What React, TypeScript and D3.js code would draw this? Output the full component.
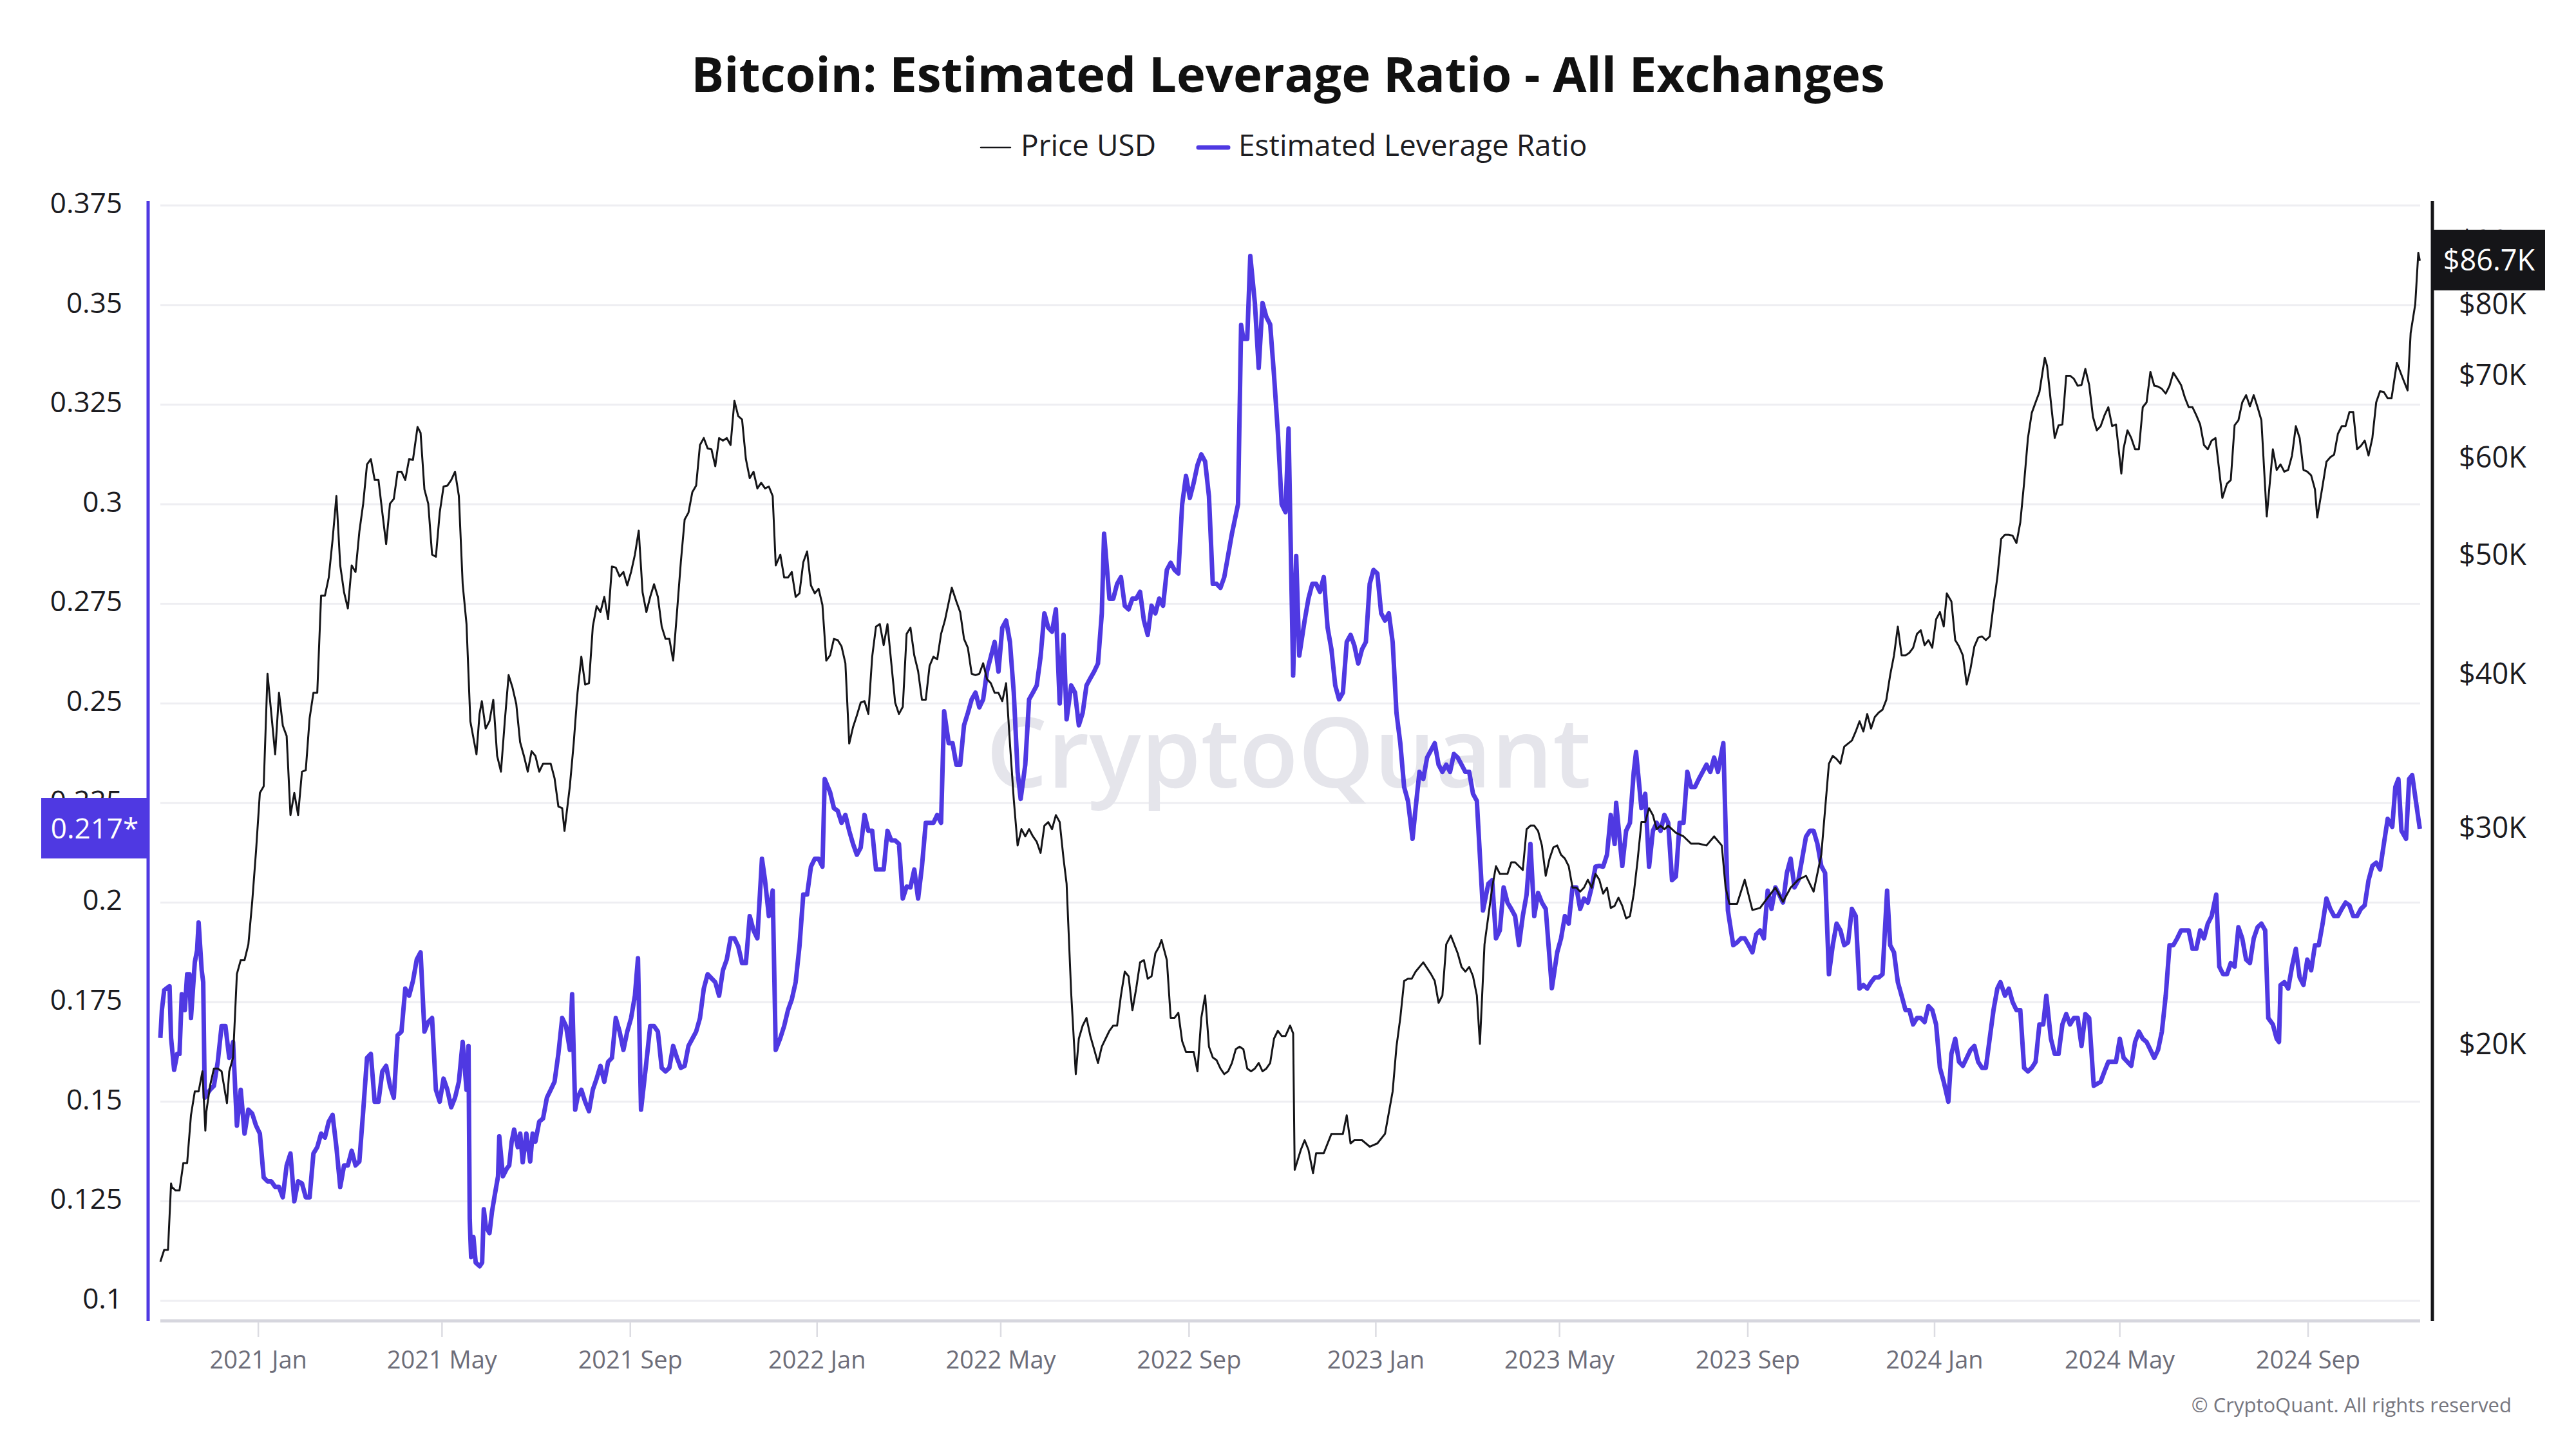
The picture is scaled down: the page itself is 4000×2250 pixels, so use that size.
import { useEffect, useRef } from 'react';
import * as d3 from 'd3';

// day offsets are counted from 2020-10-29 (first point on the chart)
const START = Date.UTC(2020, 9, 29);
const DAY = 86400000;
const LAST_DAY = 1476;

// BTC price in $K, [day, price]
const price2020_21: [number, number][] = [
  [0, 13.3], [2.5, 13.6], [5, 13.6], [7, 15.4], [7.5, 15.3], [10, 15.2], [12.5, 15.2], [15, 16.0],
  [17.5, 16.0], [20, 17.5], [22.5, 18.3], [25, 18.3], [27.5, 19.0], [29.4, 17.0], [30, 17.6], [32.5, 18.5],
  [35, 19.1], [37.5, 19.1], [40, 19.0], [42.5, 18.2], [43.5, 17.9], [45, 19.0], [47.5, 19.5], [50, 22.8],
  [52.5, 23.4], [55, 23.4], [57.5, 24.1], [60, 26.1], [62.5, 28.7], [65, 32.0], [67.5, 32.4], [70, 40.0],
  [72.5, 37.1], [75, 34.4], [77.5, 38.6], [80, 36.3], [82.5, 35.6], [85, 30.7], [87.5, 32.0], [90, 30.7],
  [92.5, 33.3], [95, 33.4], [97.5, 36.8], [100, 38.6], [102.5, 38.6], [105, 46.3], [107.5, 46.3], [110, 47.9],
  [112.5, 51.4], [115, 55.8], [117.5, 49.0], [120, 46.6], [122.5, 45.2], [125, 49.0], [127.5, 48.4],
  [130, 52.2], [132.5, 55.0], [135, 59.2], [137.5, 59.8], [140, 57.5], [142.5, 57.5], [145, 54.1],
  [147.5, 51.0], [150, 55.0], [152.5, 55.5], [155, 58.4], [157.5, 58.4], [160, 57.5], [162.5, 59.8],
  [165, 59.7], [168, 63.5], [170, 62.8], [172.5, 56.5], [175, 55.0], [177.5, 50.0], [180, 49.8],
  [182.5, 54.1], [185, 56.8], [187.5, 56.9], [190, 57.5], [192.5, 58.4], [195, 55.8], [197.5, 47.3],
  [200, 43.9], [202.5, 36.6], [206.5, 34.4], [208.5, 37.1], [210, 38.0], [212.5, 36.1], [215, 36.6],
  [217.5, 38.1], [220, 34.3], [222.5, 33.3], [225, 36.6], [227.5, 39.9], [230, 39.0], [232.5, 37.8],
  [235, 35.2], [237.5, 34.3], [240, 33.3], [242.5, 34.6], [245, 34.3], [247.5, 33.3], [250, 33.8],
  [252.5, 33.8], [255, 33.8], [257.5, 32.9], [260, 31.2], [262.5, 31.1], [264, 29.8], [267.5, 32.4],
  [270, 35.1], [272.5, 38.6], [275, 41.3], [277.5, 39.2], [280, 39.3], [282.5, 43.7], [285, 45.4],
  [287.5, 44.9], [290, 46.2], [292.5, 44.3], [295, 48.9], [297.5, 48.8], [300, 48.0], [302.5, 48.4],
  [305, 47.2], [307.5, 48.4], [310, 50.0], [312.5, 52.3], [315, 46.6], [317.5, 44.9], [320, 46.2],
  [322.5, 47.3], [325, 46.2], [327.5, 43.7], [330, 42.7], [332.5, 42.7], [335, 41.0], [337.5, 44.9],
  [340, 49.3], [342.5, 53.4], [345, 54.1], [347.5, 56.2], [350, 56.9], [352.5, 61.4], [355, 62.2],
  [357.5, 61.0], [360, 60.9], [362.5, 59.0], [365, 62.2], [367.5, 61.9], [370, 62.2], [372.5, 61.4],
  [375, 66.7], [377.5, 64.8], [380, 64.4], [382.5, 59.8], [385, 57.7], [387.5, 58.4], [390, 56.6],
  [392.5, 57.2], [395, 56.6], [397.5, 56.8], [400, 55.8], [402, 49.0], [405, 50.0], [407.5, 47.9],
  [410, 47.9], [412.5, 48.4], [415, 46.2], [417.5, 46.5], [420, 49.3], [422.5, 50.3], [425, 47.2],
  [427.5, 46.5], [430, 46.9], [432.5, 45.5], [435, 41.0], [437.5, 41.4], [440, 42.7], [442.5, 42.6],
  [445, 42.1], [447.5, 40.8], [450, 35.1], [452.5, 36.2], [455, 37.0], [457.5, 37.9], [460, 38.0],
  [462.5, 37.1], [465, 41.3], [467.5, 43.7], [470, 43.9], [472.5, 42.2], [475, 43.9], [477.5, 40.8],
  [480, 37.9], [482.5, 37.1], [485, 37.6], [487.5, 43.1],
];

const price2022: [number, number][] = [
  [490, 43.6], [492.5, 41.4], [495, 40.2], [497.5, 38.1], [500, 38.1], [502.5, 40.6], [505, 41.3],
  [507.5, 41.1], [510, 43.1], [512.5, 44.2], [517, 47.0], [520, 45.8], [522.5, 44.9], [525, 42.7],
  [527.5, 42.0], [530, 40.0], [532.5, 39.9], [535, 40.0], [537.5, 40.8], [540, 39.6], [542.5, 39.3],
  [545, 38.6], [547.5, 38.6], [550, 38.0], [552.5, 39.3], [555, 35.1], [557.5, 31.6], [560, 29.0],
  [562.5, 29.9], [565, 29.5], [567.5, 29.9], [570, 29.5], [572.5, 29.2], [575, 28.6], [577.5, 30.1],
  [580, 30.3], [582.5, 29.9], [585, 30.7], [587.5, 30.3], [590, 28.3], [592, 27.0], [595, 22.0],
  [598, 18.9], [600, 20.2], [602.5, 20.7], [605, 21.0], [607.5, 20.3], [610, 19.8], [612.5, 19.3],
  [615, 19.9], [617.5, 20.2], [620, 20.5], [622.5, 20.7], [625, 20.7], [627.5, 21.9], [630, 22.9],
  [632.5, 22.7], [635, 21.3], [637.5, 22.2], [640, 23.3], [642.5, 23.4], [645, 22.6], [647.5, 22.7],
  [650, 23.7], [652.5, 24.0], [654, 24.3], [657.5, 23.4], [660, 21.0], [662.5, 21.0], [665, 21.2],
  [667.5, 20.1], [670, 19.7], [672.5, 19.7], [675, 19.7], [677.5, 19.0], [680, 21.0], [682.5, 21.9],
  [685, 19.9], [687.5, 19.5], [690, 19.4], [692.5, 19.1], [695, 18.9], [697.5, 19.0], [700, 19.3],
  [702.5, 19.8], [705, 19.9], [707.5, 19.8], [710, 19.1], [712.5, 19.0], [715, 19.1], [717.5, 19.3],
  [720, 19.0], [722.5, 19.1], [725, 19.3], [727.5, 20.2], [730, 20.5], [732.5, 20.3], [735, 20.3],
  [738, 20.7], [740, 20.4], [741, 15.8], [745, 16.4], [747.5, 16.7], [750, 16.4], [753, 15.7], [755, 16.3],
  [757.5, 16.3], [760, 16.3], [765, 16.9], [770, 16.9], [772.5, 16.9], [775, 17.5], [777.5, 16.6],
  [780, 16.7], [785, 16.7], [790, 16.5], [795, 16.6], [800, 16.9], [805, 18.3], [807.5, 19.9], [810, 21.0],
  [812.5, 22.5], [815, 22.6], [817.5, 22.6], [820, 22.9],
];

const price2023_24: [number, number][] = [
  [825, 23.3], [830, 22.8], [832.5, 22.5], [835, 21.6], [837.5, 21.9], [840, 24.1], [843, 24.5],
  [847.5, 23.7], [850, 23.1], [852.5, 22.9], [855, 23.1], [857.5, 22.7], [860, 21.9], [862, 20.0],
  [865, 24.1], [867.5, 25.4], [870, 26.8], [872.5, 27.9], [875, 27.5], [877.5, 27.5], [880, 27.5],
  [882.5, 28.1], [885, 28.1], [887.5, 27.9], [890, 27.7], [892.5, 29.9], [895, 30.1], [897.5, 30.1],
  [900, 29.8], [902.5, 29.0], [905, 27.4], [907.5, 28.3], [910, 28.9], [912.5, 29.0], [915, 28.5],
  [917.5, 28.3], [920, 27.9], [922.5, 26.8], [925, 26.8], [927.5, 26.6], [930, 26.8], [932.5, 27.2],
  [935, 26.8], [937.5, 27.5], [940, 27.2], [942.5, 26.5], [945, 26.8], [947.5, 25.8], [950, 25.9],
  [952.5, 26.3], [955, 25.9], [957.5, 25.3], [960, 25.4], [962.5, 26.5], [965, 28.2], [967.5, 30.3],
  [970, 30.3], [972.5, 31.1], [975, 30.7], [977.5, 29.9], [980, 30.1], [982.5, 29.9], [985, 30.1],
  [990, 29.7], [995, 29.5], [1000, 29.1], [1005, 29.1], [1010, 29.0], [1015, 29.5], [1020, 29.0],
  [1022.5, 26.8], [1025, 26.0], [1030, 26.0], [1035, 27.2], [1040, 25.7], [1045, 25.8], [1050, 26.3],
  [1055, 26.8], [1060, 26.1], [1065, 26.8], [1070, 27.2], [1075, 27.4], [1080, 26.6], [1085, 28.5],
  [1090, 33.8], [1092.5, 34.3], [1095, 34.1], [1097.5, 33.8], [1100, 34.9], [1105, 35.3], [1107.5, 35.9],
  [1110, 36.6], [1112.5, 35.9], [1115, 37.1], [1117.5, 36.1], [1120, 36.9], [1122.5, 37.2], [1125, 37.4],
  [1127.5, 38.1], [1130, 39.9], [1132.5, 41.4], [1135, 43.7], [1137.5, 41.4], [1140, 41.4], [1142.5, 41.6],
  [1145, 42.0], [1147.5, 43.1], [1150, 43.4], [1152.5, 42.2], [1155, 42.6], [1157.5, 42.0], [1160, 44.3],
  [1162.5, 44.9], [1165, 43.7], [1167, 46.5], [1170, 45.8], [1172.5, 42.6], [1175, 42.1], [1177.5, 41.4],
  [1180, 39.2], [1182.5, 40.4], [1185, 42.1], [1187.5, 42.8], [1190, 42.9], [1192.5, 42.6], [1195, 42.9],
  [1197.5, 45.5], [1200, 47.9], [1202.5, 51.5], [1205, 51.9], [1207.5, 51.9], [1210, 51.8], [1212.5, 51.1],
  [1215, 53.1], [1217.5, 57.2], [1220, 62.2], [1222.5, 65.2], [1225, 66.5], [1227.5, 67.8], [1231, 72.3],
  [1232.5, 71.2], [1235, 66.5], [1237.5, 62.2], [1240, 63.7], [1242.5, 63.8], [1245, 69.9], [1247.5, 69.9],
  [1250, 69.5], [1252.5, 68.6], [1255, 68.7], [1257.5, 70.8], [1260, 68.7], [1262.5, 64.7], [1265, 63.1],
  [1267.5, 63.6], [1270, 64.9], [1272.5, 65.9], [1275, 63.6], [1277.5, 63.8], [1281, 58.2], [1282.5, 61.0],
  [1285, 63.1], [1287.5, 62.2], [1290, 60.9], [1292.5, 60.9], [1295, 65.9], [1297.5, 66.5], [1300, 70.4],
  [1302.5, 68.6], [1305, 68.5], [1307.5, 68.2], [1310, 67.6], [1312.5, 68.6], [1315, 70.3], [1317.5, 69.5],
  [1320, 68.7], [1322.5, 67.1], [1325, 65.9], [1327.5, 65.9], [1330, 64.9], [1332.5, 63.8], [1335, 61.4],
  [1337.5, 60.9], [1340, 61.9], [1342.5, 62.2], [1347, 55.6], [1350, 57.1], [1352.5, 57.5], [1355, 63.7],
  [1357.5, 64.3], [1360, 66.5], [1362.5, 67.4], [1365, 66.0], [1367.5, 67.4], [1370, 65.9], [1372.5, 64.3],
  [1376, 53.7], [1380, 60.9], [1382.5, 58.6], [1385, 59.2], [1387.5, 58.4], [1390, 58.6], [1392.5, 60.2],
  [1395, 63.6], [1397.5, 62.2], [1400, 58.6], [1402.5, 58.4], [1405, 58.0], [1407.5, 56.5], [1409, 53.6],
  [1412.5, 56.9], [1415, 59.5], [1417.5, 60.0], [1420, 60.3], [1422.5, 62.7], [1425, 63.6], [1427.5, 63.6],
  [1430, 65.3], [1432.5, 65.3], [1435, 60.9], [1437.5, 61.3], [1440, 61.9], [1442.5, 60.2], [1445, 62.2],
  [1447.5, 66.5], [1450, 67.9], [1452.5, 67.8], [1455, 67.0], [1457.5, 67.0], [1461, 71.6], [1462.5, 70.8],
  [1465, 69.5], [1468, 68.0], [1470, 75.7], [1473, 79.9], [1475, 88.0], [1476, 86.7],
];

// estimated leverage ratio, [day, ratio]
const leverage2020_21: [number, number][] = [
  [0, 0.166], [1, 0.173], [2.5, 0.178], [6, 0.179], [7, 0.166], [9, 0.158], [11, 0.162], [12.5, 0.162],
  [14, 0.177], [16, 0.173], [17.5, 0.182], [19, 0.182], [20, 0.171], [22.5, 0.185], [24, 0.188], [25, 0.195],
  [27, 0.183], [28, 0.18], [29, 0.151], [32.5, 0.153], [35, 0.154], [37.5, 0.16], [40, 0.169], [42.5, 0.169],
  [45, 0.161], [47.5, 0.165], [50, 0.144], [52.5, 0.153], [55, 0.142], [57.5, 0.148], [60, 0.147],
  [62.5, 0.144], [65, 0.142], [67.5, 0.131], [70, 0.13], [72.5, 0.13], [75, 0.1286], [77.5, 0.1286],
  [80, 0.126], [82.5, 0.134], [85, 0.137], [87.5, 0.125], [90, 0.13], [92.5, 0.1295], [95, 0.126],
  [97.5, 0.126], [100, 0.137], [102.5, 0.1386], [105, 0.142], [107.5, 0.141], [110, 0.145], [112.5, 0.1467],
  [115, 0.1386], [117.5, 0.1286], [120, 0.134], [122.5, 0.134], [125, 0.1377], [127.5, 0.134], [130, 0.135],
  [132.5, 0.1476], [135, 0.161], [137.5, 0.162], [140, 0.15], [142.5, 0.15], [145, 0.1576], [147.5, 0.159],
  [150, 0.154], [152.5, 0.151], [155, 0.1667], [157.5, 0.1676], [160, 0.1784], [162.5, 0.1766],
  [165, 0.1803], [167.5, 0.1857], [170, 0.1875], [172.5, 0.1676], [175, 0.17], [177.5, 0.171], [180, 0.153],
  [182.5, 0.15], [185, 0.1558], [187.5, 0.153], [190, 0.1486], [192.5, 0.151], [195, 0.155], [197.5, 0.165],
  [200, 0.153], [201.3, 0.164], [202.1, 0.1205], [203, 0.111], [204.5, 0.116], [206, 0.1096], [208.6, 0.1087],
  [210.2, 0.1096], [211.3, 0.123], [212.6, 0.1187], [215, 0.117], [216.6, 0.1223], [218.2, 0.126],
  [220.6, 0.1313], [221.4, 0.1413], [223.8, 0.1313], [226.3, 0.1332], [227.9, 0.134], [229.5, 0.14],
  [231.1, 0.143], [233.5, 0.1386], [235.1, 0.142], [236.7, 0.1348], [239.1, 0.142], [241.6, 0.135],
  [243.2, 0.142],
  [245, 0.14], [247.5, 0.145], [250, 0.1458], [252.5, 0.151], [255, 0.153], [257.5, 0.155], [260, 0.162],
  [262.5, 0.171], [265, 0.169], [267.5, 0.163], [269, 0.177], [271, 0.148], [272.5, 0.151], [275, 0.153],
  [277.5, 0.15], [280, 0.1476], [282.5, 0.153], [285, 0.1558], [287.5, 0.159], [290, 0.155], [292.5, 0.16],
  [295, 0.161], [297.5, 0.171], [300, 0.1676], [302.5, 0.163], [305, 0.1676], [307.5, 0.171], [310, 0.1766],
  [312, 0.186], [314, 0.148], [317.5, 0.16], [320, 0.169], [322.5, 0.169], [325, 0.1676], [327.5, 0.1585],
  [330, 0.1576], [332.5, 0.1585], [335, 0.164], [337.5, 0.161], [340, 0.1585], [342.5, 0.159], [345, 0.164],
  [347.5, 0.1658], [350, 0.1676], [352.5, 0.171], [355, 0.1784], [357.5, 0.182], [360, 0.181],
  [362.5, 0.18], [365, 0.1766], [367.5, 0.183], [370, 0.1857], [372.5, 0.191], [375, 0.191], [377.5, 0.189],
  [380, 0.1848], [382.5, 0.1848], [385, 0.1966], [387.5, 0.193], [390, 0.191], [393, 0.211], [395, 0.2056],
  [397.5, 0.1966], [400, 0.203], [402, 0.163], [405, 0.166], [407.5, 0.169], [410, 0.173], [412.5, 0.1757],
  [415, 0.18], [417.5, 0.189], [420, 0.202], [422.5, 0.202], [425, 0.209], [427.5, 0.211], [430, 0.211],
  [432.5, 0.209], [434, 0.231], [437.5, 0.2277], [440, 0.2237], [442.5, 0.223], [445, 0.22], [447.5, 0.222],
  [450, 0.218], [452.5, 0.2147], [455, 0.212], [457.5, 0.2138], [460, 0.222], [462.5, 0.218], [465, 0.218],
  [467.5, 0.2083], [470, 0.2083], [472.5, 0.2083], [475, 0.218], [477.5, 0.2156], [480, 0.2156],
  [482.5, 0.2147], [485, 0.201], [487.5, 0.204],
];

const leverage2022: [number, number][] = [
  [490, 0.2038], [492.5, 0.2083], [495, 0.201], [497.5, 0.209], [500, 0.22], [502.5, 0.22], [505, 0.22],
  [507.5, 0.222], [510, 0.22], [512, 0.248], [515, 0.24], [517.5, 0.24], [520, 0.2346], [522.5, 0.2346],
  [525, 0.2445], [527.5, 0.2476], [530, 0.251], [532.5, 0.2527], [535, 0.249], [537.5, 0.251], [540, 0.258],
  [542.5, 0.2617], [545, 0.2654], [547.5, 0.258], [550, 0.269], [552.5, 0.2708], [555, 0.2654],
  [557.5, 0.2527], [560, 0.2328], [562, 0.226], [565, 0.2346], [567.5, 0.251], [570, 0.2527],
  [572.5, 0.2545], [575, 0.2617], [577.5, 0.2726], [580, 0.269], [582.5, 0.268], [585, 0.2736],
  [587.5, 0.25], [590, 0.2672], [592, 0.246], [595, 0.2545], [597.5, 0.2527], [600, 0.2445],
  [602.5, 0.2476], [605, 0.2545], [607.5, 0.2563], [610, 0.258], [612.5, 0.26], [615, 0.2726],
  [616.5, 0.2926], [620, 0.2763], [622.5, 0.2763], [625, 0.28], [627.5, 0.2817], [630, 0.2745],
  [632.5, 0.2736], [635, 0.2763], [637.5, 0.2763], [640, 0.278], [642.5, 0.2708], [645, 0.2672],
  [647.5, 0.2745], [650, 0.2726], [652.5, 0.2763], [655, 0.2745], [657.5, 0.2835], [660, 0.2853],
  [662.5, 0.2835], [665, 0.2826], [667.5, 0.3], [670, 0.3071], [672.5, 0.3016], [675, 0.3053],
  [677.5, 0.3098], [680, 0.3125], [682.5, 0.3107], [685, 0.302], [687.5, 0.28], [690, 0.28], [692.5, 0.279],
  [695, 0.2817], [697.5, 0.2871], [700, 0.2926], [704, 0.3], [706, 0.345], [707.5, 0.3415], [710, 0.3415],
  [712, 0.3623], [715, 0.3505], [717.5, 0.3342], [720, 0.3505], [722.5, 0.347], [725, 0.3451],
  [727.5, 0.3324], [730, 0.318], [732.5, 0.3], [735, 0.298], [737, 0.319], [740, 0.257], [742, 0.287],
  [744, 0.262], [747.5, 0.2708], [750, 0.2763], [752.5, 0.28], [755, 0.28], [757.5, 0.278], [760, 0.2817],
  [762.5, 0.269], [765, 0.2636], [767.5, 0.2545], [770, 0.251], [772.5, 0.2527], [775, 0.2654],
  [777.5, 0.2672], [780, 0.2645], [782.5, 0.26], [785, 0.2636], [787.5, 0.2654], [790, 0.28],
  [792.5, 0.2835], [795, 0.2826], [797.5, 0.2726], [800, 0.2708], [802.5, 0.2726], [805, 0.2654],
  [807.5, 0.2476], [810, 0.24], [812.5, 0.229], [815, 0.2255], [818, 0.216], [820, 0.2237],
];

const leverage2023_24: [number, number][] = [
  [822.5, 0.2328], [825, 0.231], [827.5, 0.2364], [830, 0.2382], [832.5, 0.24], [835, 0.2346],
  [837.5, 0.2328], [840, 0.2346], [842.5, 0.2328], [845, 0.2373], [847.5, 0.2364], [850, 0.2346],
  [852.5, 0.2328], [855, 0.2328], [857.5, 0.2273], [860, 0.2255], [864, 0.198], [867.5, 0.2047],
  [870, 0.2056], [872.5, 0.191], [875, 0.193], [877.5, 0.2038], [880, 0.2], [882.5, 0.1984], [885, 0.1966],
  [887.5, 0.1893], [890, 0.1966], [892.5, 0.202], [895, 0.2147], [897.5, 0.1966], [900, 0.2024],
  [902.5, 0.2], [905, 0.1984], [909, 0.1785], [912.5, 0.1875], [915, 0.191], [917.5, 0.1966],
  [920, 0.1947], [922.5, 0.2038], [925, 0.2038], [927.5, 0.1984], [930, 0.201], [932.5, 0.2], [935, 0.2038],
  [937.5, 0.209], [940, 0.2092], [942.5, 0.209], [945, 0.212], [947.5, 0.222], [950, 0.2147], [951, 0.225],
  [955, 0.2092], [957.5, 0.218], [960, 0.22], [962.5, 0.2328], [964, 0.2378], [967.5, 0.2237],
  [970, 0.2273], [972.5, 0.209], [975, 0.218], [977.5, 0.22], [980, 0.218], [982.5, 0.222], [985, 0.22],
  [987.5, 0.2056], [990, 0.2065], [992.5, 0.22], [995, 0.22], [997.5, 0.2328], [1000, 0.229],
  [1002.5, 0.229], [1005, 0.231], [1007.5, 0.2328], [1010, 0.2346], [1012.5, 0.2328], [1015, 0.2364],
  [1017.5, 0.2328], [1021, 0.24], [1024, 0.198], [1027.5, 0.1893], [1030, 0.19], [1032.5, 0.191],
  [1035, 0.191], [1037.5, 0.1893], [1040, 0.1875], [1042.5, 0.192], [1045, 0.193], [1047.5, 0.191],
  [1050, 0.203], [1052.5, 0.1984], [1055, 0.2038], [1057.5, 0.202], [1060, 0.2], [1062.5, 0.2074],
  [1065, 0.211], [1067.5, 0.2038], [1070, 0.2056], [1072.5, 0.211], [1075, 0.2165], [1077.5, 0.218],
  [1080, 0.218], [1082.5, 0.2147], [1085, 0.2092], [1087.5, 0.2074], [1090, 0.182], [1092.5, 0.1893],
  [1095, 0.1947], [1097.5, 0.193], [1100, 0.1893], [1102.5, 0.19], [1105, 0.1984], [1107.5, 0.1966],
  [1110, 0.1784], [1112.5, 0.1793], [1115, 0.1784], [1117.5, 0.18], [1120, 0.1812], [1122.5, 0.1812],
  [1125, 0.182], [1128, 0.203], [1130, 0.1893], [1132.5, 0.1875], [1135, 0.18], [1137.5, 0.1766],
  [1140, 0.173], [1142.5, 0.173], [1145, 0.1694], [1147.5, 0.171], [1150, 0.171], [1152.5, 0.17],
  [1155, 0.174], [1157.5, 0.173], [1160, 0.1694], [1162.5, 0.1585], [1165, 0.155], [1168, 0.15],
  [1170, 0.162], [1172.5, 0.1658], [1175, 0.16], [1177.5, 0.159], [1180, 0.161], [1182.5, 0.163],
  [1185, 0.164], [1187.5, 0.16], [1190, 0.1585], [1192.5, 0.1585], [1195, 0.1658], [1197.5, 0.173],
  [1200, 0.1784], [1202, 0.18], [1205, 0.1766], [1207.5, 0.1784], [1210, 0.175], [1212.5, 0.173],
  [1215, 0.173], [1217.5, 0.1585], [1220, 0.1576], [1222.5, 0.1585], [1225, 0.16], [1227.5, 0.1694],
  [1230, 0.1694], [1232, 0.1766], [1235, 0.1658], [1237.5, 0.162], [1240, 0.162], [1242.5, 0.1694],
  [1245, 0.172], [1247.5, 0.1694], [1250, 0.171], [1252.5, 0.171], [1255, 0.164], [1257.5, 0.172],
  [1260, 0.171], [1263, 0.154], [1267.5, 0.155], [1270, 0.1576], [1272.5, 0.16], [1275, 0.16],
  [1277.5, 0.16], [1280, 0.1658], [1282.5, 0.161], [1285, 0.16], [1287.5, 0.159], [1290, 0.165],
  [1292.5, 0.1676], [1295, 0.1658], [1297.5, 0.165], [1300, 0.163], [1302.5, 0.161], [1305, 0.163],
  [1307.5, 0.1676], [1310, 0.1766], [1312.5, 0.1893], [1315, 0.1893], [1317.5, 0.191], [1320, 0.193],
  [1322.5, 0.193], [1325, 0.193], [1327.5, 0.1884], [1330, 0.1884], [1332.5, 0.193], [1335, 0.191],
  [1337.5, 0.1947], [1340, 0.1966], [1343, 0.202], [1345, 0.1839], [1347.5, 0.182], [1350, 0.182],
  [1352.5, 0.1848], [1355, 0.1839], [1357.5, 0.1938], [1360, 0.191], [1362.5, 0.1857], [1365, 0.1848],
  [1367.5, 0.191], [1370, 0.1938], [1372.5, 0.1947], [1375, 0.193], [1377, 0.171], [1380, 0.1694],
  [1382.5, 0.1658], [1384, 0.165], [1385, 0.1793], [1387.5, 0.18], [1390, 0.1784], [1392.5, 0.1839],
  [1395, 0.1884], [1397.5, 0.1812], [1400, 0.1793], [1402.5, 0.1857], [1405, 0.183], [1407.5, 0.1893],
  [1410, 0.1893], [1412.5, 0.1947], [1415, 0.201], [1417.5, 0.1984], [1420, 0.1966], [1422.5, 0.1966],
  [1425, 0.1984], [1427.5, 0.2], [1430, 0.1993], [1432.5, 0.1966], [1435, 0.1966], [1437.5, 0.1984],
  [1440, 0.1993], [1442.5, 0.2056], [1445, 0.2092], [1447.5, 0.21], [1450, 0.2083], [1452.5, 0.2147],
  [1455, 0.221], [1458, 0.219], [1460, 0.229], [1462, 0.231], [1464, 0.218], [1467, 0.216], [1469, 0.231],
  [1471, 0.232], [1476, 0.2185],
];

const leverageTicks = [0.1, 0.125, 0.15, 0.175, 0.2, 0.225, 0.25, 0.275, 0.3, 0.325, 0.35, 0.375];
const priceTicks = [20000, 30000, 40000, 50000, 60000, 70000, 80000, 90000];
const monthTicks = ['2021-01-01', '2021-05-01', '2021-09-01', '2022-01-01', '2022-05-01', '2022-09-01',
  '2023-01-01', '2023-05-01', '2023-09-01', '2024-01-01', '2024-05-01', '2024-09-01'];
const leverageBadge = '0.217*';
const priceBadge = '$86.7K';

const BLUE = '#4f39e2';
const INK = '#151518';
const FONT = '"Open Sans", "Noto Sans", sans-serif';

export default function App() {
  const ref = useRef<SVGSVGElement>(null);

  useEffect(() => {
    document.body.style.margin = '0';
    const svg = d3.select(ref.current);
    svg.selectAll('*').remove();

    const W = 4000, H = 2250;
    const left = 249, right = 3758, top = 312, bottom = 2051;
    const leverage = [...leverage2020_21, ...leverage2022, ...leverage2023_24];
    const priceK = [...price2020_21, ...price2022, ...price2023_24];

    const x = d3.scaleUtc()
      .domain([new Date(START), new Date(START + LAST_DAY * DAY)])
      .range([left, 3757.5]);
    const yL = d3.scaleLinear().domain([0.1, 0.375]).range([2020, 319]);
    const yP = d3.scaleLog().domain([20000, 80000]).range([1621, 471.5]);
    const dayDate = (d: number) => new Date(START + d * DAY);

    svg.append('rect').attr('width', W).attr('height', H).attr('fill', '#fff');

    // grid
    svg.append('g').selectAll('line').data(leverageTicks).join('line')
      .attr('x1', left).attr('x2', right)
      .attr('y1', d => yL(d)).attr('y2', d => yL(d))
      .attr('stroke', '#eeeef2').attr('stroke-width', 3);

    // watermark
    svg.append('text').attr('x', 2001).attr('y', 1223).attr('text-anchor', 'middle')
      .attr('font-family', FONT).attr('font-weight', 600).attr('font-size', 150)
      .attr('fill', '#e5e5eb').text('CryptoQuant');

    // x axis
    const xAxis = svg.append('g');
    xAxis.append('line').attr('x1', left).attr('x2', right).attr('y1', bottom).attr('y2', bottom)
      .attr('stroke', '#d6d6de').attr('stroke-width', 5);
    const months = monthTicks.map(s => new Date(s + 'T00:00:00Z'));
    xAxis.selectAll('.tk').data(months).join('line').attr('class', 'tk')
      .attr('x1', d => x(d)).attr('x2', d => x(d)).attr('y1', bottom + 2).attr('y2', 2076)
      .attr('stroke', '#dcdce2').attr('stroke-width', 2.5);
    xAxis.selectAll('text').data(months).join('text')
      .attr('x', d => x(d)).attr('y', 2125).attr('text-anchor', 'middle')
      .attr('font-family', FONT).attr('font-size', 38).attr('fill', '#6d6d79')
      .text(d => d3.utcFormat('%Y %b')(d));

    // series: leverage first, price drawn on top
    const levLine = d3.line<[number, number]>()
      .x(d => x(dayDate(d[0]))).y(d => yL(d[1]));
    const priceLine = d3.line<[number, number]>()
      .x(d => x(dayDate(d[0]))).y(d => yP(d[1] * 1000));

    svg.append('path').datum(leverage).attr('d', levLine)
      .attr('fill', 'none').attr('stroke', BLUE).attr('stroke-width', 7)
      .attr('stroke-linejoin', 'round');
    svg.append('path').datum(priceK).attr('d', priceLine)
      .attr('fill', 'none').attr('stroke', INK).attr('stroke-width', 3)
      .attr('stroke-linejoin', 'round');

    // left axis
    svg.append('line').attr('x1', 230).attr('x2', 230).attr('y1', top).attr('y2', bottom)
      .attr('stroke', BLUE).attr('stroke-width', 5);
    svg.append('g').selectAll('text').data(leverageTicks).join('text')
      .attr('x', 190).attr('y', d => yL(d)).attr('dy', '0.27em').attr('text-anchor', 'end')
      .attr('font-family', FONT).attr('font-size', 44).attr('fill', '#1b1b1f')
      .text(d => String(+d.toFixed(3)));

    // right axis
    svg.append('line').attr('x1', 3777).attr('x2', 3777).attr('y1', top).attr('y2', bottom)
      .attr('stroke', INK).attr('stroke-width', 5);
    svg.append('g').selectAll('text').data(priceTicks).join('text')
      .attr('x', 3818).attr('y', d => yP(d)).attr('dy', '0.36em').attr('text-anchor', 'start')
      .attr('font-family', FONT).attr('font-size', 45).attr('fill', '#1b1b1f')
      .text(d => `$${d / 1000}K`);

    // last value badges
    const lastLev = leverage[leverage.length - 1][1];
    const lb = svg.append('g').attr('transform', `translate(0,${yL(lastLev)})`);
    lb.append('rect').attr('x', 64).attr('y', -48).attr('width', 165).attr('height', 94).attr('fill', BLUE);
    lb.append('text').attr('x', 147).attr('dy', '0.34em').attr('text-anchor', 'middle')
      .attr('font-family', FONT).attr('font-size', 44).attr('fill', '#fff').text(leverageBadge);

    const lastPrice = priceK[priceK.length - 1][1] * 1000;
    const pb = svg.append('g').attr('transform', `translate(0,${yP(lastPrice)})`);
    pb.append('rect').attr('x', 3779).attr('y', -48).attr('width', 173).attr('height', 94).attr('fill', INK);
    pb.append('text').attr('x', 3865).attr('dy', '0.34em').attr('text-anchor', 'middle')
      .attr('font-family', FONT).attr('font-size', 45).attr('fill', '#fff').text(priceBadge);

    // title + legend
    svg.append('text').attr('x', 2000).attr('y', 143).attr('text-anchor', 'middle')
      .attr('font-family', FONT).attr('font-weight', 700).attr('font-size', 76).attr('fill', '#111')
      .text('Bitcoin: Estimated Leverage Ratio - All Exchanges');

    const legend = [
      { label: 'Price USD', color: INK, width: 2.5, x: 1523 },
      { label: 'Estimated Leverage Ratio', color: BLUE, width: 7, x: 1861 },
    ];
    const lg = svg.append('g').selectAll('g').data(legend).join('g')
      .attr('transform', d => `translate(${d.x},229)`);
    lg.append('line').attr('x1', 0).attr('x2', 46).attr('stroke', d => d.color)
      .attr('stroke-width', d => d.width).attr('stroke-linecap', 'round');
    lg.append('text').attr('x', 62).attr('y', 13).attr('font-family', FONT).attr('font-size', 46)
      .attr('fill', '#1d1d22').text(d => d.label);

    svg.append('text').attr('x', 3900).attr('y', 2193).attr('text-anchor', 'end')
      .attr('font-family', FONT).attr('font-size', 31).attr('fill', '#76767f')
      .text('© CryptoQuant. All rights reserved');
  }, []);

  return (
    <svg ref={ref} width={4000} height={2250}
      style={{ position: 'absolute', left: 0, top: 0, display: 'block' }} />
  );
}
